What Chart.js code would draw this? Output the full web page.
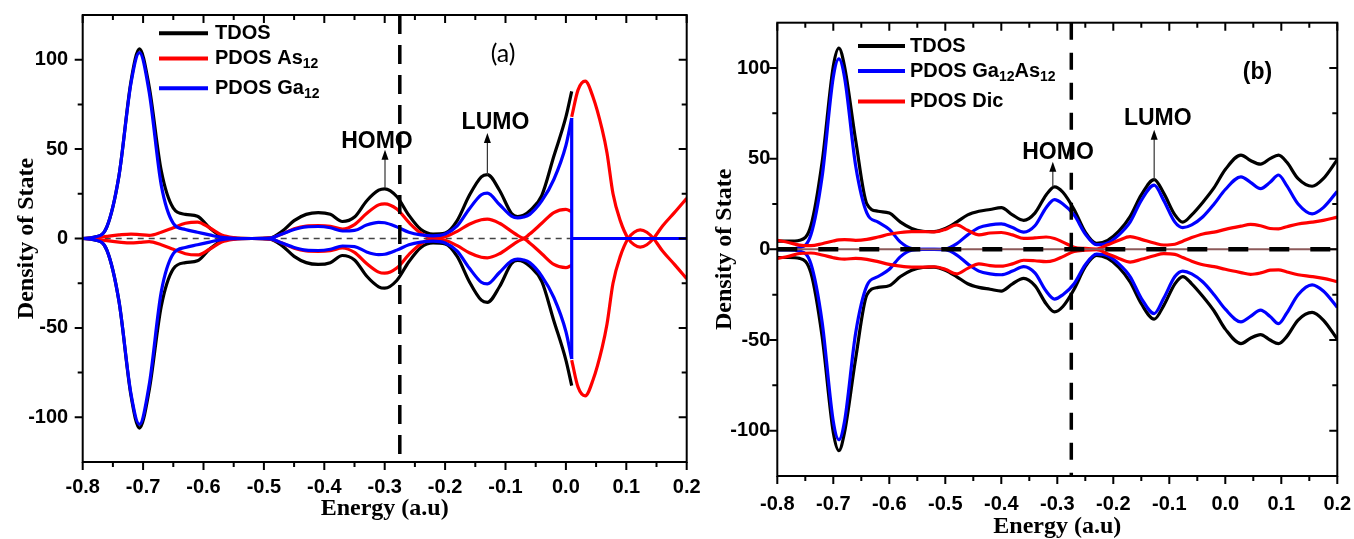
<!DOCTYPE html>
<html>
<head>
<meta charset="utf-8">
<title>Density of State (a) (b)</title>
<script src="https://cdn.jsdelivr.net/npm/chart.js@4.4.1/dist/chart.umd.min.js"></script>
<style>
  html, body { margin: 0; padding: 0; background: #fff; }
  #wrap { position: relative; width: 1354px; height: 539px; overflow: hidden; background: #fff; }
  canvas { position: absolute; top: 0; }
  #cA { left: 0; }
  #cB { left: 690px; }
</style>
</head>
<body>
<div id="wrap">
  <canvas id="cA" width="710" height="539"></canvas>
  <canvas id="cB" width="664" height="539"></canvas>
</div>
<script>
// ---- axes ------------------------------------------------------------------
const xTickVals  = [-0.8, -0.7, -0.6, -0.5, -0.4, -0.3, -0.2, -0.1, 0.0, 0.1, 0.2];
const xMinorVals = [-0.75, -0.65, -0.55, -0.45, -0.35, -0.25, -0.15, -0.05, 0.05, 0.15];
const yTickVals  = [-100, -50, 0, 50, 100];
const yMinorVals = [-75, -25, 25, 75];

// ---- panel (a): Ga12As12 ----------------------------------------------------
const xA = [-0.80, -0.78, -0.76, -0.74, -0.72, -0.706, -0.69, -0.67, -0.65, -0.63, -0.61, -0.59, -0.57, -0.55, -0.52,
            -0.49, -0.47, -0.45, -0.43, -0.41, -0.39, -0.37, -0.35, -0.33, -0.31, -0.30, -0.28, -0.26, -0.24, -0.22,
            -0.20, -0.18, -0.16, -0.14, -0.13, -0.11, -0.09, -0.08, -0.07, -0.06, -0.04, -0.02, 0.0, 0.0096];
const tdosA_up = [0, 0.8, 6.5, 35, 88, 106, 85, 38, 17, 13.5, 12.5, 6, 1.2, 0.2, 0,
                  0.3, 4, 10, 13.5, 14.5, 13.5, 9.5, 12, 21, 27, 27.8, 23.5, 13, 5, 2.5,
                  3, 10, 24, 34.5, 35.7, 27, 14, 12.3, 13, 15.5, 24, 46, 68, 82.3];
const tdosA_dn = [0, -0.8, -6.5, -35, -88, -106, -85, -38, -17, -13.5, -12.5, -6, -1.2, -0.2, 0,
                  -0.3, -4, -10, -13.5, -14.5, -13.5, -9.5, -12, -21, -27, -27.8, -23.5, -13, -5, -2.5,
                  -3, -10, -24, -34.5, -35.7, -27, -14, -12.3, -13, -15.5, -24, -46, -68, -82.3];
const as12A_up = [0, 0.3, 1.2, 2, 2.5, 2.2, 1.8, 3.5, 6, 8.5, 9.2, 6, 2, 0.5, 0,
                  0.3, 2.5, 5.5, 7, 7.2, 6.8, 5.3, 7.8, 14, 18.8, 19.4, 16.5, 9, 3, 0.4,
                  1, 4, 8, 10.5, 10.8, 8.5, 4, 1.8, 0.2, 2.5, 8.5, 14.5, 16.3, 15];
const as12A_dn = [0, -0.3, -1.2, -2, -2.5, -2.2, -1.8, -3.5, -6, -8.5, -9.2, -6, -2, -0.5, 0,
                  -0.3, -2.5, -5.5, -7, -7.2, -6.8, -5.3, -7.8, -14, -18.8, -19.4, -16.5, -9, -3, -0.4,
                  -1, -4, -8, -10.5, -10.8, -8.5, -4, -1.8, -0.2, -2.5, -8.5, -14.5, -16.3, -15];
const ga12A_up = [0, 0.8, 6.5, 35, 87, 104, 82, 30, 8.5, 5, 3.5, 2, 0.6, 0.1, 0,
                  0.2, 2.5, 5, 6.5, 6.7, 6, 4.2, 4.5, 7.5, 9, 8.8, 6.5, 3.5, 2, 1.5,
                  2.5, 7, 16.5, 24.5, 25.4, 19, 12.5, 11.5, 12, 13.5, 21, 33, 52, 67.4];
const ga12A_dn = [0, -0.8, -6.5, -35, -87, -104, -82, -30, -8.5, -5, -3.5, -2, -0.6, -0.1, 0,
                  -0.2, -2.5, -5, -6.5, -6.7, -6, -4.2, -4.5, -7.5, -9, -8.8, -6.5, -3.5, -2, -1.5,
                  -2.5, -7, -16.5, -24.5, -25.4, -19, -12.5, -11.5, -12, -13.5, -21, -33, -52, -67.4];
// As12 states above the gap
const xA_as = [0.0096, 0.02, 0.032, 0.045, 0.06, 0.068, 0.078, 0.09, 0.103, 0.113, 0.123, 0.134, 0.145, 0.16, 0.18, 0.2];
const as12A_hi_up = [68, 83, 88, 79, 61, 48, 25, 10, 0, -3.5, -4.8, -3.5, 0, 7, 14.6, 22.5];
const as12A_hi_dn = [-68, -83, -88, -79, -61, -48, -25, -10, 0, 3.5, 4.8, 3.5, 0, -7, -14.6, -22.5];
// Ga12 cut-off and flat tail
const xA_gaTail = [0.0096, 0.0096, 0.0096, 0.2];
const ga12A_tail = [67.4, -67.4, 0, 0];

// ---- panel (b): Ga12As12 + Dic ---------------------------------------------
const xB = [-0.80, -0.78, -0.76, -0.74, -0.72, -0.70, -0.69, -0.68, -0.66, -0.64, -0.62, -0.60, -0.58, -0.56, -0.54,
            -0.52, -0.50, -0.48, -0.46, -0.44, -0.42, -0.40, -0.38, -0.36, -0.34, -0.32, -0.305, -0.29, -0.27, -0.25,
            -0.23, -0.21, -0.19, -0.17, -0.15, -0.127, -0.11, -0.09, -0.076, -0.06, -0.04, -0.02, 0.0, 0.028, 0.045,
            0.063, 0.08, 0.095, 0.11, 0.13, 0.155, 0.175, 0.2];
const tdosB_up = [4.5, 4.5, 5, 13, 48, 101, 111, 101, 60, 25, 21, 20, 15, 11.5, 10,
                  9.8, 11.5, 15, 19, 21, 22, 23, 19, 16, 20, 30, 34.5, 31.5, 22, 9.5,
                  3.3, 5, 10, 18, 30, 38.5, 31, 19, 15, 19, 26, 34, 44, 52, 49,
                  47, 50, 52, 48, 39, 34.8, 39, 49.5];
const tdosB_dn = [-4.5, -4.5, -5, -13, -48, -101, -111, -101, -60, -25, -21, -20, -15, -11.5, -10,
                  -9.8, -11.5, -15, -19, -21, -22, -23, -19, -16, -20, -30, -34.5, -31.5, -22, -9.5,
                  -3.3, -5, -10, -18, -30, -38.5, -31, -19, -15, -19, -26, -34, -44, -52, -49,
                  -47, -50, -52, -48, -39, -34.8, -39, -49.5];
const gaasB_up = [0.3, 0.3, 1, 8, 40, 95, 105, 95, 46, 20, 15, 11, 4, 0.5, 0,
                  0, 0.2, 3, 8, 12, 13.5, 14, 12, 9.5, 13, 23, 27.4, 25, 19, 8.5,
                  2.6, 3.5, 8, 15, 27, 35.4, 27, 15, 12, 13.5, 18, 25, 33, 40, 37,
                  33.5, 37, 41, 35, 25, 19.6, 23, 32];
const gaasB_dn = [-0.3, -0.3, -1, -8, -40, -95, -105, -95, -46, -20, -15, -11, -4, -0.5, 0,
                  0, -0.2, -3, -8, -12, -13.5, -14, -12, -9.5, -13, -23, -27.4, -25, -19, -8.5,
                  -2.6, -3.5, -8, -15, -27, -35.4, -27, -15, -12, -13.5, -18, -25, -33, -40, -37,
                  -33.5, -37, -41, -35, -25, -19.6, -23, -32];
const dicB_up = [5, 3.8, 2.3, 2, 3.1, 4.6, 5.2, 5.4, 5, 5.5, 6.8, 8.3, 9.3, 9.8, 9.8,
                 9.6, 11, 13.5, 10.5, 8, 9, 9.3, 8, 6, 6.3, 6.8, 6, 4, 1.2, 0.5,
                 0.2, 2.5, 5, 7, 5.5, 3.5, 2.4, 2.8, 4.5, 6.5, 8.5, 9.5, 11, 12.8, 13.8,
                 13, 11.5, 11.3, 12.5, 14, 15, 16, 17.8];
const dicB_dn = [-5, -3.8, -2.3, -2, -3.1, -4.6, -5.2, -5.4, -5, -5.5, -6.8, -8.3, -9.3, -9.8, -9.8,
                 -9.6, -11, -13.5, -10.5, -8, -9, -9.3, -8, -6, -6.3, -6.8, -6, -4, -1.2, -0.5,
                 -0.2, -2.5, -5, -7, -5.5, -3.5, -2.4, -2.8, -4.5, -6.5, -8.5, -9.5, -11, -12.8, -13.8,
                 -13, -11.5, -11.3, -12.5, -14, -15, -16, -17.8];

// ---- helpers ---------------------------------------------------------------
const SANS  = '"Liberation Sans", Arial, sans-serif';
const SERIF = '"Liberation Serif", "Times New Roman", serif';
const BLACK = '#000000', RED = '#ff0000', BLUE = '#0000ff';

function pts(xs, ys) { return xs.map((x, i) => ({ x, y: ys[i] })); }

function curve(label, xs, ys, color, order, smooth = true) {
    return {
        label, data: pts(xs, ys), borderColor: color, backgroundColor: color,
        borderWidth: 3.2, pointRadius: 0, fill: false, order,
        cubicInterpolationMode: smooth ? 'monotone' : 'default', tension: smooth ? 0.4 : 0
    };
}

function makeDeco(d) {
    function hline(ctx, area, y, style) {
        ctx.save();
        ctx.beginPath();
        ctx.rect(area.left, area.top, area.right - area.left, area.bottom - area.top);
        ctx.clip();
        ctx.strokeStyle = style.color; ctx.lineWidth = style.width;
        ctx.setLineDash(style.dash || []);
        ctx.beginPath(); ctx.moveTo(area.left, y); ctx.lineTo(area.right, y); ctx.stroke();
        ctx.restore();
    }
    return {
        id: 'deco',
        beforeDatasetsDraw(chart) {
            const { ctx, chartArea: a, scales: { y } } = chart;
            (d.zeroBehind || []).forEach(s => hline(ctx, a, y.getPixelForValue(0), s));
        },
        afterDatasetsDraw(chart) {
            const { ctx, chartArea: a, scales: { x, y } } = chart;
            (d.zeroFront || []).forEach(s => hline(ctx, a, y.getPixelForValue(0), s));

            // HOMO / LUMO arrows
            ctx.save();
            d.arrows.forEach(ar => {
                const px = x.getPixelForValue(ar.x);
                const p0 = y.getPixelForValue(ar.from), p1 = y.getPixelForValue(ar.to);
                ctx.strokeStyle = '#333'; ctx.lineWidth = 1.2; ctx.setLineDash([]);
                ctx.beginPath(); ctx.moveTo(px, p0); ctx.lineTo(px, p1 + 8); ctx.stroke();
                ctx.fillStyle = '#000';
                ctx.beginPath(); ctx.moveTo(px, p1); ctx.lineTo(px - 3.5, p1 + 10); ctx.lineTo(px + 3.5, p1 + 10);
                ctx.closePath(); ctx.fill();
            });
            // text labels
            ctx.fillStyle = '#000'; ctx.textAlign = 'center'; ctx.textBaseline = 'middle';
            d.labels.forEach(l => {
                ctx.font = l.font;
                ctx.fillText(l.text, x.getPixelForValue(l.x), y.getPixelForValue(l.y));
            });
            ctx.restore();

            // Fermi level (vertical dashed)
            ctx.save();
            const fx = x.getPixelForValue(d.fermi.x);
            ctx.strokeStyle = '#000'; ctx.lineWidth = d.fermi.width; ctx.setLineDash(d.fermi.dash);
            ctx.beginPath(); ctx.moveTo(fx, a.top); ctx.lineTo(fx, a.bottom); ctx.stroke();
            ctx.restore();

            // frame + ticks (major & minor, outward on left/bottom, inward on top/right)
            ctx.save();
            ctx.strokeStyle = '#000'; ctx.lineWidth = 2; ctx.setLineDash([]);
            ctx.strokeRect(a.left, a.top, a.right - a.left, a.bottom - a.top);
            const tick = (vals, len) => {
                vals.forEach(v => {
                    const px = x.getPixelForValue(v);
                    ctx.beginPath();
                    ctx.moveTo(px, a.bottom); ctx.lineTo(px, a.bottom + len);
                    ctx.moveTo(px, a.top); ctx.lineTo(px, a.top + len);
                    ctx.stroke();
                });
            };
            const ytick = (vals, len) => {
                vals.forEach(v => {
                    const py = y.getPixelForValue(v);
                    ctx.beginPath();
                    ctx.moveTo(a.left, py); ctx.lineTo(a.left - len, py);
                    ctx.moveTo(a.right, py); ctx.lineTo(a.right - len, py);
                    ctx.stroke();
                });
            };
            tick(xTickVals, 8); tick(xMinorVals, 5);
            ytick(yTickVals, 8); ytick(yMinorVals, 5);
            ctx.restore();

            // legend with subscripts
            ctx.save();
            ctx.textAlign = 'left'; ctx.textBaseline = 'middle'; ctx.fillStyle = '#000';
            d.legend.rows.forEach(r => {
                ctx.strokeStyle = r.color; ctx.lineWidth = 4; ctx.setLineDash([]);
                ctx.beginPath(); ctx.moveTo(d.legend.x0, r.y); ctx.lineTo(d.legend.x1, r.y); ctx.stroke();
                let tx = d.legend.tx;
                r.parts.forEach(([t, sub]) => {
                    ctx.font = sub ? 'bold 14px ' + SANS : 'bold 20px ' + SANS;
                    ctx.fillText(t, tx, r.y + (sub ? 6 : 0));
                    tx += ctx.measureText(t).width;
                });
            });
            ctx.restore();
        }
    };
}

function makeChart(id, cfg) {
    return new Chart(document.getElementById(id), {
        type: 'line',
        data: { datasets: cfg.datasets },
        options: {
            responsive: false, animation: false, events: [],
            layout: { padding: cfg.padding },
            plugins: { legend: { display: false }, tooltip: { enabled: false } },
            scales: {
                x: {
                    type: 'linear', min: -0.8, max: 0.2,
                    grid: { display: false, drawTicks: false }, border: { display: false },
                    afterBuildTicks: s => { s.ticks = xTickVals.map(v => ({ value: v })); },
                    afterFit: s => { s.height = cfg.xAxisH; s.paddingLeft = 0; s.paddingRight = 0; },
                    ticks: { color: '#000', font: { family: SANS, size: 20, weight: 'bold' },
                             padding: cfg.xTickPad, maxRotation: 0, autoSkip: false,
                             callback: v => Number(v).toFixed(1) },
                    title: { display: true, text: 'Energy (a.u)', color: '#000',
                             font: { family: SERIF, size: 24, weight: 'bold', lineHeight: 1 },
                             padding: { top: 0, bottom: cfg.xTitlePad } }
                },
                y: {
                    type: 'linear', min: -125, max: 125,
                    grid: { display: false, drawTicks: false }, border: { display: false },
                    afterBuildTicks: s => { s.ticks = yTickVals.map(v => ({ value: v })); },
                    afterFit: s => { s.width = cfg.yAxisW; s.paddingTop = 0; s.paddingBottom = 0; },
                    ticks: { color: '#000', font: { family: SANS, size: 20, weight: 'bold' },
                             padding: cfg.yTickPad, autoSkip: false },
                    title: { display: true, text: 'Density of State', color: '#000',
                             font: { family: SERIF, size: 24, weight: 'bold', lineHeight: 1 },
                             padding: { top: cfg.yTitlePad, bottom: 0 } }
                }
            }
        },
        plugins: [makeDeco(cfg.deco)]
    });
}

// ---- (a) -------------------------------------------------------------------
makeChart('cA', {
    padding: { top: 15, right: 23.3, bottom: 0, left: 0 },
    xAxisH: 77, yAxisW: 82.7, xTickPad: 13, yTickPad: 14.5, xTitlePad: 18, yTitlePad: 15,
    datasets: [
        curve('TDOS', xA, tdosA_up, BLACK, 3),
        curve('TDOS', xA, tdosA_dn, BLACK, 3),
        curve('PDOS As12', xA, as12A_up, RED, 2),
        curve('PDOS As12', xA, as12A_dn, RED, 2),
        curve('PDOS As12', xA_as, as12A_hi_up, RED, 2),
        curve('PDOS As12', xA_as, as12A_hi_dn, RED, 2),
        curve('PDOS Ga12', xA, ga12A_up, BLUE, 1),
        curve('PDOS Ga12', xA, ga12A_dn, BLUE, 1),
        curve('PDOS Ga12', xA_gaTail, ga12A_tail, BLUE, 1, false)
    ],
    deco: {
        zeroBehind: [{ color: '#444', width: 1.3, dash: [6, 5] }],
        fermi: { x: -0.275, width: 3.5, dash: [19, 11] },
        arrows: [{ x: -0.2995, from: 28.4, to: 49.7 }, { x: -0.13, from: 35.7, to: 59 }],
        labels: [
            { text: 'HOMO', x: -0.3128, y: 54.3, font: 'bold 23px ' + SANS },
            { text: 'LUMO', x: -0.1166, y: 65, font: 'bold 23px ' + SANS },
            { text: '(a)', x: -0.104, y: 103.4, font: '25px Lato, ' + SANS }
        ],
        legend: { x0: 159, x1: 208, tx: 215, rows: [
            { y: 33.3, color: BLACK, parts: [['TDOS', false]] },
            { y: 58.5, color: RED,   parts: [['PDOS As', false], ['12', true]] },
            { y: 88.3, color: BLUE,  parts: [['PDOS Ga', false], ['12', true]] }
        ] }
    }
});

// ---- (b) -------------------------------------------------------------------
makeChart('cB', {
    padding: { top: 22.7, right: 16.7, bottom: 0, left: 0 },
    xAxisH: 63, yAxisW: 87.3, xTickPad: 16, yTickPad: 7, xTitlePad: 0, yTitlePad: 23,
    datasets: [
        curve('TDOS', xB, tdosB_up, BLACK, 3),
        curve('TDOS', xB, tdosB_dn, BLACK, 3),
        curve('PDOS Ga12As12', xB, gaasB_up, BLUE, 2),
        curve('PDOS Ga12As12', xB, gaasB_dn, BLUE, 2),
        curve('PDOS Dic', xB, dicB_up, RED, 1),
        curve('PDOS Dic', xB, dicB_dn, RED, 1)
    ],
    deco: {
        zeroFront: [{ color: '#8c5a5a', width: 2 }, { color: '#000', width: 4.5, dash: [20, 21] }],
        fermi: { x: -0.275, width: 3.5, dash: [17, 13] },
        arrows: [{ x: -0.308, from: 34.5, to: 48.3 }, { x: -0.127, from: 38.5, to: 66 }],
        labels: [
            { text: 'HOMO', x: -0.2987, y: 53.4, font: 'bold 23px ' + SANS },
            { text: 'LUMO', x: -0.1205, y: 72, font: 'bold 23px ' + SANS },
            { text: '(b)', x: 0.0575, y: 97.6, font: 'bold 23px ' + SANS }
        ],
        legend: { x0: 168, x1: 215, tx: 220, rows: [
            { y: 46, color: BLACK, parts: [['TDOS', false]] },
            { y: 71, color: BLUE,  parts: [['PDOS Ga', false], ['12', true], ['As', false], ['12', true]] },
            { y: 101.5, color: RED, parts: [['PDOS Dic', false]] }
        ] }
    }
});
</script>
</body>
</html>
